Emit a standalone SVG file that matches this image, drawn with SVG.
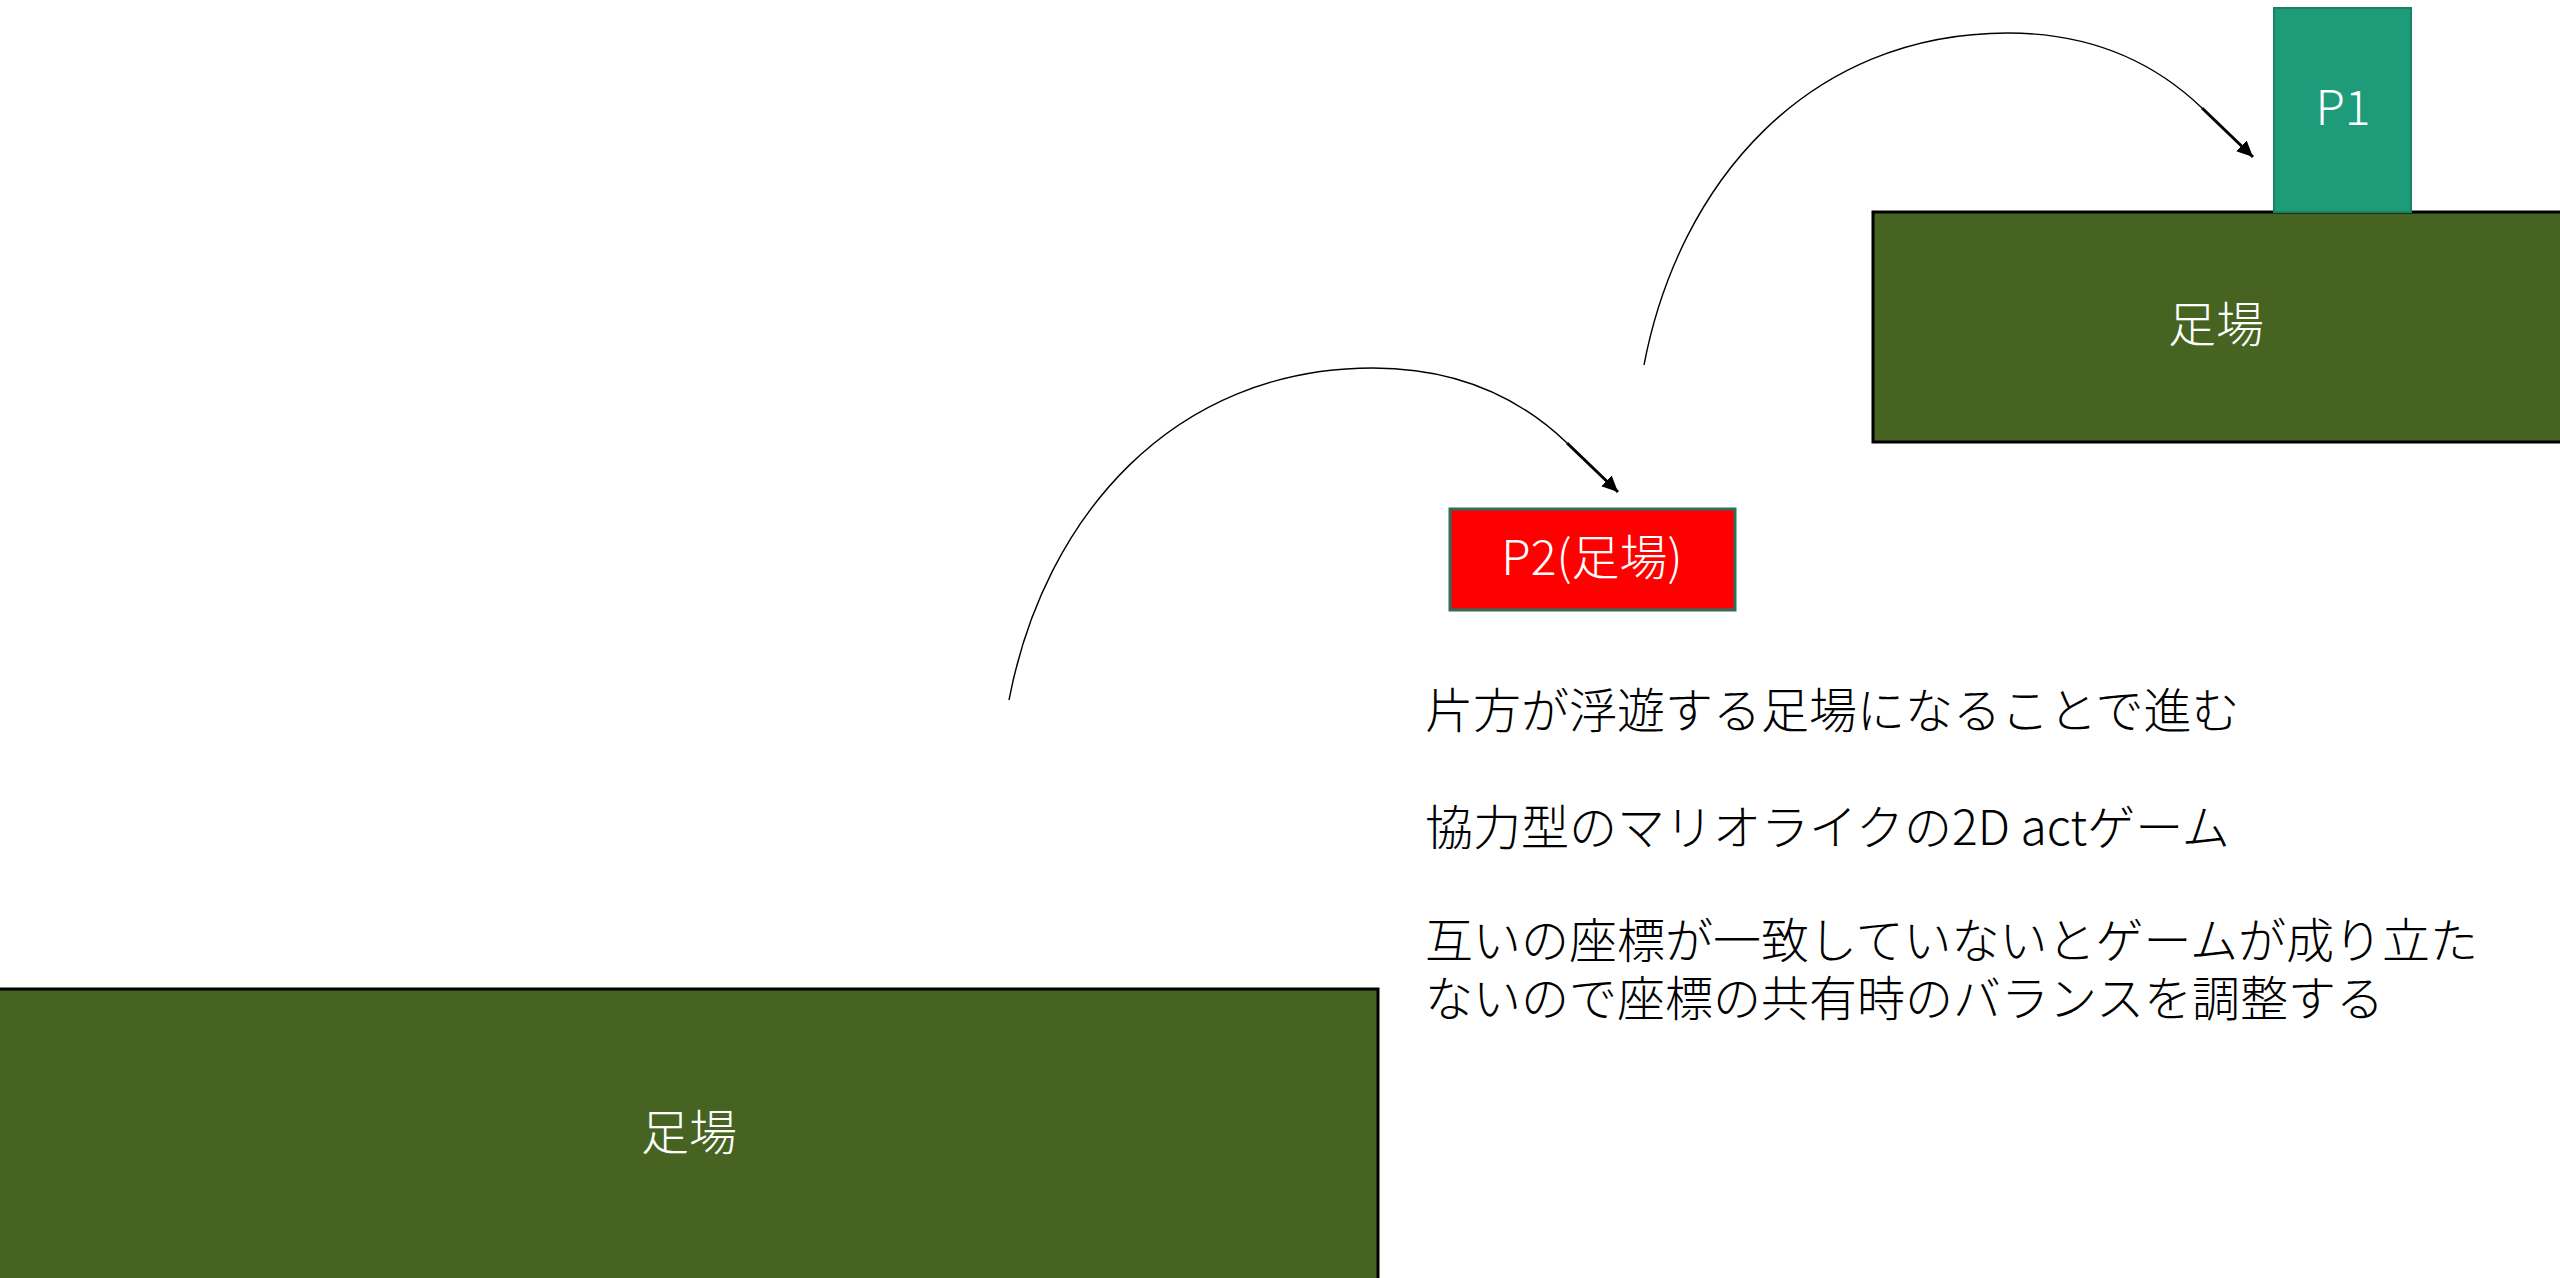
<svg xmlns="http://www.w3.org/2000/svg" width="2560" height="1278" viewBox="0 0 2560 1278">
<style>
.plat{fill:#466321;stroke:#000;stroke-width:3}
.lbl{fill:#fff;font-family:"Noto Sans CJK JP","Noto Sans",sans-serif;font-weight:300;font-size:48px;text-anchor:middle}
.note{fill:#000;font-family:"Noto Sans CJK JP","Noto Sans",sans-serif;font-weight:300;font-size:48px}
.arc{fill:none;stroke:#000;stroke-width:1.4}
.tip{fill:none;stroke:#000;stroke-width:3}
</style>
<defs>
<marker id="ah" markerUnits="userSpaceOnUse" markerWidth="17" markerHeight="16" refX="16" refY="7.5" orient="auto" viewBox="0 0 17 16">
<path d="M0,0 L16,7.5 L0,15 z" fill="#000"/>
</marker>
</defs>
<rect width="2560" height="1278" fill="#fff"/>
<g id="platform-top">
<rect class="plat" x="1873" y="212" width="690" height="230"/>
<text class="lbl" x="2216" y="342">足場</text>
</g>
<g id="p1">
<rect x="2274" y="8" width="137" height="204" fill="#1E9C7A" stroke="#198266" stroke-width="2"/>
<text class="lbl" x="2343" y="125">P1</text>
</g>
<g id="p2">
<rect x="1450" y="509" width="285" height="101" fill="#FF0000" stroke="#2E6E5E" stroke-width="3"/>
<text class="lbl" x="1592" y="575">P2(足場)</text>
</g>
<g id="platform-bottom">
<rect class="plat" x="-3" y="989" width="1381" height="300"/>
<text class="lbl" x="689" y="1150">足場</text>
</g>
<g id="notes">
<text class="note" x="1425" y="728">片方が浮遊する足場になることで進む</text>
<text class="note" x="1425" y="845">協力型のマリオライクの2D actゲーム</text>
<text class="note" x="1425" y="958">互いの座標が一致していないとゲームが成り立た</text>
<text class="note" x="1425" y="1016">ないので座標の共有時のバランスを調整する</text>
</g>
<g id="connectors">
<g id="jump-low">
<path class="arc" d="M1009,700 C1044,517 1173,368 1373,368 C1453,368 1517,395 1567,443"/>
<path class="tip" d="M1567,443 L1618,492" marker-end="url(#ah)"/>
</g>
<g id="jump-high" transform="translate(635,-335)">
<path class="arc" d="M1009,700 C1044,517 1173,368 1373,368 C1453,368 1517,395 1567,443"/>
<path class="tip" d="M1567,443 L1618,492" marker-end="url(#ah)"/>
</g>
</g>
</svg>
